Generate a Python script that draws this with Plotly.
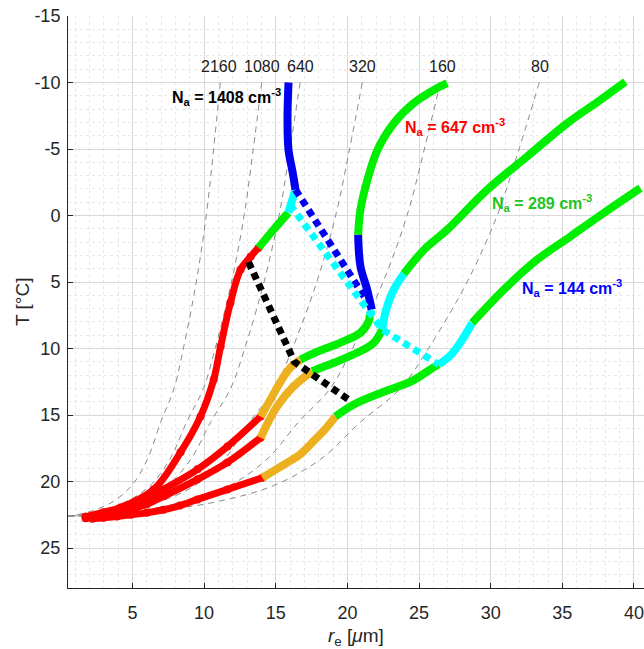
import plotly.graph_objects as go

# ---------------- data ----------------
# Reference curves (constant droplet number), T in degC, r_e in micrometre
ref_T = [-10, -5, 0, 5, 10, 13, 15.5, 18.3, 20.3, 21.6, 22.3, 22.55, 22.6]
ref_labels = ["2160", "1080", "640", "320", "160", "80"]
ref_x = {
    "2160": [11.13, 10.66, 10.15, 9.45, 8.55, 7.9, 6.98, 6.05, 4.95, 3.5, 1.9, 0.8, 0.4],
    "1080": [14.02, 13.43, 12.79, 11.91, 10.77, 9.95, 8.79, 7.62, 6.24, 4.41, 2.39, 1.01, 0.4],
    "640":  [16.7, 15.99, 15.23, 14.18, 12.83, 11.85, 10.47, 9.08, 7.43, 5.25, 2.85, 1.2, 0.4],
    "320":  [21.04, 20.15, 19.18, 17.86, 16.16, 14.93, 13.19, 11.43, 9.36, 6.62, 3.59, 1.51, 0.4],
    "160":  [26.49, 25.37, 24.16, 22.49, 20.35, 18.8, 16.61, 14.4, 11.78, 8.33, 4.52, 1.9, 0.4],
    "80":   [33.39, 31.98, 30.45, 28.35, 25.65, 23.7, 20.94, 18.15, 14.85, 10.5, 5.7, 2.4, 0.4],
}
ref_label_x = [11.07, 14.07, 16.73, 21.05, 26.64, 33.47]
ref_label_T = -11.17

# negative tick labels are shown with a plain hyphen
y_label_alias = {"\u221215": "-15", "\u221210": "-10", "\u22125": "-5"}

# N_a = 1408 cm-3
A_red_x = [1.73, 2.98, 4.17, 6.47, 8.35, 9.75, 10.67, 11.15, 11.84, 12.54, 13.24, 13.8]
A_red_T = [22.65, 22.3, 21.94, 20.6, 17.8, 15.1, 12.33, 9.85, 6.55, 4.07, 3.1, 2.42]
A_green_x = [13.8, 14.84, 15.88]
A_green_T = [2.42, 1.07, -0.21]
A_cyan_x = [15.88, 16.1, 16.38]
A_cyan_T = [-0.21, -1.0, -1.94]
A_blue_x = [16.38, 16.17, 15.89, 15.82, 15.89]
A_blue_T = [-1.94, -3.29, -4.94, -7.2, -10.0]

# N_a = 647 cm-3
B_red_x = [1.73, 2.4, 2.98, 3.9, 4.86, 6.0, 7.17, 9.54, 11.63, 13.94]
B_red_T = [22.65, 22.55, 22.4, 22.15, 21.86, 21.3, 20.59, 19.08, 17.36, 15.11]
B_orange_x = [13.94, 14.63, 15.34, 16.03, 16.73]
B_orange_T = [15.11, 13.83, 12.48, 11.43, 10.83]
B_green_x = [16.73, 17.91, 19.52, 20.92, 21.49, 21.56]
B_green_T = [10.83, 10.23, 9.55, 8.8, 7.95, 7.45]
B_cyan_x = [21.56, 21.7]
B_cyan_T = [7.45, 7.07]
B_blue_x = [21.7, 21.38, 20.91, 20.75]
B_blue_T = [7.07, 5.57, 3.82, 1.44]
B_green2_x = [20.75, 20.91, 21.4, 22.1, 23.24, 24.63, 26.03, 26.96]
B_green2_T = [1.44, -0.44, -2.69, -4.94, -6.94, -8.45, -9.44, -9.95]

# N_a = 289 cm-3
C_red_x = [1.73, 2.4, 3.0, 3.9, 4.87, 6.0, 7.17, 9.54, 11.63, 13.94]
C_red_T = [22.75, 22.65, 22.5, 22.32, 22.09, 21.7, 21.11, 19.83, 18.56, 16.7]
C_orange_x = [13.94, 15.1, 16.26, 17.54]
C_orange_T = [16.7, 14.33, 12.83, 11.7]
C_green_x = [17.54, 19.05, 20.68, 21.84, 22.43]
C_green_T = [11.7, 11.07, 10.32, 9.57, 8.57]
C_cyan_x = [22.43, 22.54, 22.78, 23.24, 23.94]
C_cyan_T = [8.57, 7.82, 6.82, 5.57, 4.38]
C_green2_x = [23.94, 25.35, 26.96, 29.76, 32.55, 35.34, 37.66, 39.4]
C_green2_T = [4.38, 2.57, 1.07, -1.94, -4.44, -6.94, -8.69, -10.05]

# N_a = 144 cm-3
D_red_x = [2.2, 2.98, 3.9, 4.87, 6.0, 7.17, 8.3, 9.54, 11.63, 14.07]
D_red_T = [22.8, 22.72, 22.62, 22.5, 22.35, 22.12, 21.8, 21.34, 20.59, 19.71]
D_orange_x = [14.07, 15.8, 16.73, 17.6, 18.5, 19.17]
D_orange_T = [19.71, 18.58, 17.93, 17.0, 16.0, 15.1]
D_green_x = [19.17, 20.45, 22.54, 24.5, 26.03, 26.38]
D_green_T = [15.1, 14.2, 13.25, 12.45, 11.4, 11.2]
D_cyan_x = [26.38, 27.2, 27.75, 28.2, 28.71]
D_cyan_T = [11.2, 10.5, 9.75, 9.0, 8.07]
D_green2_x = [28.71, 30.92, 33.24, 35.57, 37.89, 40.45]
D_green2_T = [8.07, 5.57, 3.32, 1.57, -0.19, -2.06]

# transition lines
black_x = [13.1, 16.3, 20.25]
black_T = [3.5, 11.0, 13.97]
bluel_x = [16.38, 21.65]
bluel_T = [-1.94, 6.9]
cyanl_x = [16.0, 21.56, 22.43, 26.38]
cyanl_T = [-0.8, 7.45, 8.57, 11.2]

labels = [
    ("<b>N<sub>a</sub> = 1408 cm<sup>-3</sup></b>", 11.56, -8.92, "#000000"),
    ("<b>N<sub>a</sub> = 647 cm<sup>-3</sup></b>", 27.54, -6.67, "#FF0000"),
    ("<b>N<sub>a</sub> = 289 cm<sup>-3</sup></b>", 33.55, -0.96, "#22C422"),
    ("<b>N<sub>a</sub> = 144 cm<sup>-3</sup></b>", 35.7, 5.42, "#0000FF"),
]

# ---------------- styles ----------------
RED = "#FF0000"
ORANGE = "#EDB120"
GREEN = "#00EE00"
CYAN = "#00FFFF"
BLUE = "#0000EE"
FONT = "Liberation Sans, Arial, sans-serif"

fig = go.Figure()

for lab in ref_labels:
    fig.add_trace(go.Scatter(x=ref_x[lab], y=ref_T, mode="lines",
                             line=dict(color="#8a8a8a", width=1, dash="6px,5px", shape="spline"),
                             hoverinfo="skip", showlegend=False))

def seg(x, y, color, width=8, shape="spline", dash=None, markers=False):
    ln = dict(color=color, width=width, shape=shape)
    if dash:
        ln["dash"] = dash
    kw = {}
    if markers:
        kw["marker"] = dict(color=color, size=8, line=dict(width=0))
    fig.add_trace(go.Scatter(x=x, y=y, mode="lines+markers" if markers else "lines", line=ln,
                             hoverinfo="skip", showlegend=False, **kw))

for xs, ts in [(A_red_x, A_red_T), (B_red_x, B_red_T), (C_red_x, C_red_T), (D_red_x, D_red_T)]:
    seg(xs, ts, RED, width=7, markers=True)

for xs, ts, c in [
    (A_green_x, A_green_T, GREEN), (A_cyan_x, A_cyan_T, CYAN), (A_blue_x, A_blue_T, BLUE),
    (B_orange_x, B_orange_T, ORANGE), (B_green_x, B_green_T, GREEN),
    (B_cyan_x, B_cyan_T, CYAN), (B_blue_x, B_blue_T, BLUE), (B_green2_x, B_green2_T, GREEN),
    (C_orange_x, C_orange_T, ORANGE), (C_green_x, C_green_T, GREEN),
    (C_cyan_x, C_cyan_T, CYAN), (C_green2_x, C_green2_T, GREEN),
    (D_orange_x, D_orange_T, ORANGE), (D_green_x, D_green_T, GREEN),
    (D_cyan_x, D_cyan_T, CYAN), (D_green2_x, D_green2_T, GREEN),
]:
    seg(xs, ts, c)

seg(black_x, black_T, "#000000", width=7, shape="linear", dash="7px,5px")
seg(bluel_x, bluel_T, BLUE, width=7, shape="linear", dash="7px,5px")
seg(cyanl_x, cyanl_T, CYAN, width=7, shape="linear", dash="7px,5px")

ann = []
for lab, lx in zip(ref_labels, ref_label_x):
    ann.append(dict(x=lx, y=ref_label_T, text=lab, showarrow=False,
                    font=dict(family=FONT, size=16, color="#1a1a1a"), xanchor="center", yanchor="middle"))
for txt, lx, ly, col in labels:
    ann.append(dict(x=lx, y=ly, text=txt, showarrow=False,
                    font=dict(family=FONT, size=16, color=col), xanchor="center", yanchor="middle"))
ann.append(dict(xref="paper", yref="paper", x=(22 - 68) / 576, y=0.5, text="T [°C]", textangle=-90,
                showarrow=False, font=dict(family=FONT, size=19, color="#262626"),
                xanchor="center", yanchor="middle"))
ann.append(dict(xref="paper", yref="paper", x=0.5, y=-(637 - 588) / 572,
                text="<i>r</i><sub>e</sub> [<i>μ</i>m]", showarrow=False,
                font=dict(family=FONT, size=19, color="#262626"), xanchor="center", yanchor="middle"))

axis_common = dict(showline=True, linecolor="#262626", linewidth=1, mirror=False,
                   ticks="inside", ticklen=5, tickcolor="#262626", zeroline=False,
                   showgrid=True, gridcolor="#d8d8d8", gridwidth=1,
                   tickfont=dict(family=FONT, size=18, color="#262626"))

fig.update_layout(
    width=644, height=649,
    margin=dict(l=68, r=0, t=16, b=61),
    paper_bgcolor="white", plot_bgcolor="white",
    xaxis=dict(range=[0.5, 40.7], tick0=0, dtick=5, ticklabelstandoff=8,
               minor=dict(dtick=1, showgrid=True, gridcolor="#e8e8e8", griddash="dot", ticks=""),
               **axis_common),
    yaxis=dict(range=[28, -15], tick0=0, dtick=5, ticklabelstandoff=3, labelalias=y_label_alias,
               minor=dict(dtick=1, showgrid=True, gridcolor="#e8e8e8", griddash="dot", ticks=""),
               **axis_common),
    annotations=ann,
    showlegend=False,
)

fig.write_html("out.html")
